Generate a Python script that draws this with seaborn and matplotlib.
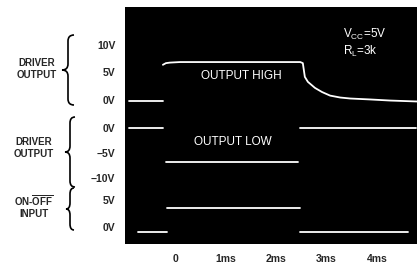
import numpy as np
import pandas as pd
import seaborn as sns
import matplotlib.pyplot as plt
from matplotlib.path import Path
from matplotlib.patches import PathPatch

# time axis (ms) and trace readings (volts), one list per visible trace segment
ch1_low_t = [-0.91, -0.24]
ch1_low_v = [-0.2, -0.2]
ch1_high_t = [-0.24, -0.18, -0.10, 0.10, 1.00, 2.00, 2.48, 2.53, 2.57, 2.63, 2.77, 2.91,
              3.07, 3.27, 3.47, 3.86, 4.26, 4.79]
ch1_high_v = [6.4, 6.7, 6.8, 6.9, 6.9, 6.9, 6.9, 6.7, 4.2, 3.3, 2.2, 1.45,
              0.8, 0.45, 0.27, 0.1, -0.1, -0.27]

ch2_before_t = [-0.91, -0.24]
ch2_before_v = [0.0, 0.0]
ch2_low_t = [-0.18, 2.44]
ch2_low_v = [-6.8, -6.8]
ch2_after_t = [2.48, 4.77]
ch2_after_v = [0.0, 0.0]

ch3_before_t = [-0.73, -0.16]
ch3_before_v = [-0.9, -0.9]
ch3_high_t = [-0.16, 2.48]
ch3_high_v = [3.6, 3.6]
ch3_after_t = [2.48, 4.61]
ch3_after_v = [-0.9, -0.9]

x_ticks = [0, 1, 2, 3, 4]
x_labels = ["0", "1ms", "2ms", "3ms", "4ms"]

ch1_ticks = [10, 5, 0]
ch1_tick_labels = ["10V", "5V", "0V"]
ch2_ticks = [0, -5, -10]
ch2_tick_labels = ["0V", "\u22125V", "\u221210V"]
ch3_ticks = [5, 0]
ch3_tick_labels = ["5V", "0V"]

# screen placement of each channel (offset, gain) in screen units
place = {"ch1": (28.8, 1.1), "ch2": (23.2, 1.0), "ch3": (3.4, 1.08)}

segments = [
    ("ch1", "a", ch1_low_t, ch1_low_v),
    ("ch1", "b", ch1_high_t, ch1_high_v),
    ("ch2", "a", ch2_before_t, ch2_before_v),
    ("ch2", "b", ch2_low_t, ch2_low_v),
    ("ch2", "c", ch2_after_t, ch2_after_v),
    ("ch3", "a", ch3_before_t, ch3_before_v),
    ("ch3", "b", ch3_high_t, ch3_high_v),
    ("ch3", "c", ch3_after_t, ch3_after_v),
]
rows = []
for ch, s, ts, vs in segments:
    off, g = place[ch]
    for t, v in zip(ts, vs):
        rows.append({"t": t, "y": off + g * v, "seg": ch + s})
df = pd.DataFrame(rows)

sns.set_theme(style="white")
plt.rcParams["font.family"] = ["Liberation Sans", "DejaVu Sans"]
plt.rcParams["mathtext.fontset"] = "custom"
plt.rcParams["mathtext.rm"] = "Liberation Sans"
plt.rcParams["mathtext.bf"] = "Liberation Sans:bold"
plt.rcParams["mathtext.it"] = "Liberation Sans"

fig = plt.figure(figsize=(4.17, 2.73), dpi=100)
ax = fig.add_axes([125 / 417, 29 / 273, 292 / 417, 237 / 273])
ax.set_facecolor("black")

sns.lineplot(data=df, x="t", y="y", units="seg", estimator=None, color="white",
             linewidth=1.3, ax=ax, legend=False)

ax.set_xlim(-0.99, 4.79)
ax.set_ylim(0, 47.4)
for sp in ax.spines.values():
    sp.set_visible(False)

ax.set_xticks(x_ticks)
ax.set_xticklabels(x_labels, fontsize=7.5, fontweight="bold")
yt, yl = [], []
for ch, ticks, labs in [("ch1", ch1_ticks, ch1_tick_labels),
                        ("ch2", ch2_ticks, ch2_tick_labels),
                        ("ch3", ch3_ticks, ch3_tick_labels)]:
    off, g = place[ch]
    yt += [off + g * v for v in ticks]
    yl += labs
ax.set_yticks(yt)
ax.set_yticklabels(yl, fontsize=7.5, fontweight="bold")
ax.tick_params(axis="x", length=0, pad=7)
ax.tick_params(axis="y", length=0, pad=7)
ax.set_xlabel("")
ax.set_ylabel("")

ax.text(1.31, 33.6, "OUTPUT HIGH", color="white", fontsize=8.5, ha="center", va="center")
ax.text(1.15, 20.4, "OUTPUT LOW", color="white", fontsize=8.5, ha="center", va="center")
ax.text(3.33, 41.9, r"V$_{\rm CC}$=5V", color="white", fontsize=8.5, ha="left", va="center")
ax.text(3.33, 38.6, r"R$_{\rm L}$=3k", color="white", fontsize=8.5, ha="left", va="center")

# group labels on the left
fig.text(37 / 417, 1 - 69 / 273, "DRIVER\nOUTPUT", fontsize=7, fontweight="bold",
         ha="center", va="center", multialignment="center")
fig.text(34 / 417, 1 - 148 / 273, "DRIVER\nOUTPUT", fontsize=7, fontweight="bold",
         ha="center", va="center", multialignment="center")
fig.text(34 / 417, 1 - 206 / 273, r"ON-$\mathbf{\overline{OFF}}$" + "\nINPUT", fontsize=7,
         fontweight="bold", ha="center", va="center", multialignment="center")


def brace(xs, top, bot, w):
    mid = (top + bot) / 2
    r = min(6, (bot - top) / 6)
    pts = [(xs + w, top), (xs, top), (xs, top + r), (xs, mid - r), (xs, mid),
           (xs - w, mid), (xs, mid), (xs, mid + r), (xs, bot - r), (xs, bot), (xs + w, bot)]
    codes = [Path.MOVETO, Path.CURVE3, Path.CURVE3, Path.LINETO, Path.CURVE3, Path.CURVE3,
             Path.CURVE3, Path.CURVE3, Path.LINETO, Path.CURVE3, Path.CURVE3]
    pts = [(x / 417, 1 - y / 273) for x, y in pts]
    fig.patches.append(PathPatch(Path(pts, codes), transform=fig.transFigure,
                                 fill=False, lw=1.2, color="black"))


brace(68, 35, 105, 6)
brace(70, 117, 187, 5)
brace(70, 188, 230, 4)

plt.savefig("out.png", dpi=100)
